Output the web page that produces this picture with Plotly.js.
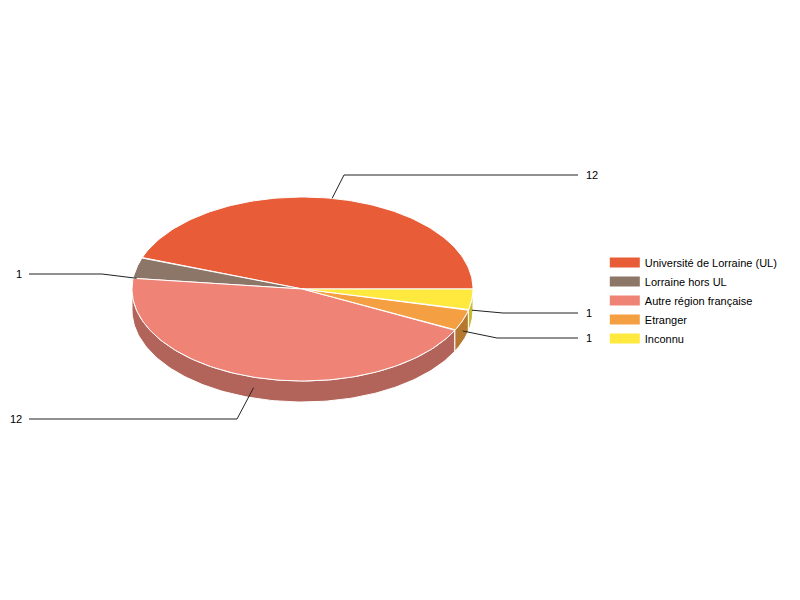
<!DOCTYPE html>
<html><head><meta charset="utf-8">
<script src="https://cdn.plot.ly/plotly-3.0.1.min.js"></script>
<style>html,body{margin:0;padding:0;background:#fff}</style>
</head><body>
<div id="chart" style="width:800px;height:600px"></div>
<script>
// ---- data ----
var categories = ["Université de Lorraine (UL)", "Lorraine hors UL", "Autre région française", "Etranger", "Inconnu"];
var values = [12, 1, 12, 1, 1];
var topColors = ["#E85D38", "#8B7668", "#EE8376", "#F4A042", "#FFE93F"];
var sideColors = ["#A8432A", "#66574C", "#B3645A", "#B5782E", "#C9BB36"];

// ---- geometry (pixel space) ----
var cx = 302.5, cy = 289, rx = 170.5, ry = 92, depth = 21;
// label placement: side (-1 left, 1 right), label y, elbow x
var labelSide = [1, -1, -1, 1, 1];
var labelY = [175, 274, 419, 338, 313];
var elbowX = [344, 102, 237, 497, 503];

function pt(a, dy) { return [cx + rx * Math.cos(a), cy - ry * Math.sin(a) + (dy || 0)]; }

var total = values.reduce(function (s, v) { return s + v; }, 0);
var sideTraces = [], topTraces = [], lineTraces = [], legendTraces = [], annotations = [];
var start = 0;
var N = 120;
values.forEach(function (v, i) {
  var a1 = start, a2 = start + v / total * 2 * Math.PI;
  start = a2;
  // side wall: visible portion between PI and 2PI
  var s1 = Math.max(a1, Math.PI), s2 = Math.min(a2, 2 * Math.PI);
  if (s2 > s1) {
    var xs = [], ys = [], k, a, p;
    for (k = 0; k <= N; k++) { a = s1 + (s2 - s1) * k / N; p = pt(a); xs.push(p[0]); ys.push(p[1]); }
    for (k = N; k >= 0; k--) { a = s1 + (s2 - s1) * k / N; p = pt(a, depth); xs.push(p[0]); ys.push(p[1]); }
    xs.push(xs[0]); ys.push(ys[0]);
    sideTraces.push({ type: "scatter", mode: "lines", x: xs, y: ys, fill: "toself",
      fillcolor: sideColors[i], line: { color: "#ffffff", width: 1 }, hoverinfo: "skip", showlegend: false });
  }
  // top face
  var tx = [cx], ty = [cy];
  for (var k2 = 0; k2 <= N; k2++) { var aa = a1 + (a2 - a1) * k2 / N; var pp = pt(aa); tx.push(pp[0]); ty.push(pp[1]); }
  tx.push(cx); ty.push(cy);
  topTraces.push({ type: "scatter", mode: "lines", x: tx, y: ty, fill: "toself", name: categories[i],
    fillcolor: topColors[i], line: { color: "#ffffff", width: 1 }, hoverinfo: "skip", showlegend: false });
  // legend entry
  legendTraces.push({ type: "scatter", mode: "lines", x: [null], y: [null], name: categories[i],
    line: { color: topColors[i], width: 11 }, hoverinfo: "skip", showlegend: true });
  // leader line
  var mid = (a1 + a2) / 2;
  var anc = pt(mid, Math.sin(mid) > 0.9 ? 0 : depth / 2);
  var endX = labelSide[i] > 0 ? 578 : 29;
  lineTraces.push({ type: "scatter", mode: "lines", x: [anc[0], elbowX[i], endX], y: [anc[1], labelY[i], labelY[i]],
    line: { color: "#222222", width: 1 }, hoverinfo: "skip", showlegend: false });
  annotations.push({ x: labelSide[i] > 0 ? 584 : 24, y: labelY[i], xref: "x", yref: "y",
    text: String(v), showarrow: false, xanchor: labelSide[i] > 0 ? "left" : "right", yanchor: "middle",
    font: { family: "Liberation Sans, Arial, sans-serif", size: 11, color: "#000000" } });
});
var traces = sideTraces.concat(topTraces).concat(lineTraces).concat(legendTraces);

var layout = {
  width: 800, height: 600,
  margin: { l: 0, r: 0, t: 0, b: 0 },
  paper_bgcolor: "#ffffff", plot_bgcolor: "#ffffff",
  xaxis: { range: [0, 800], visible: false, fixedrange: true },
  yaxis: { range: [600, 0], visible: false, fixedrange: true },
  showlegend: true,
  legend: { x: 0.756, y: 1 - 248 / 600, xanchor: "left", yanchor: "top",
    font: { family: "Liberation Sans, Arial, sans-serif", size: 11, color: "#000000" },
    tracegroupgap: 0, itemwidth: 30, bgcolor: "rgba(0,0,0,0)" },
  annotations: annotations
};
Plotly.newPlot("chart", traces, layout, { staticPlot: true, displayModeBar: false });
</script>
</body></html>
